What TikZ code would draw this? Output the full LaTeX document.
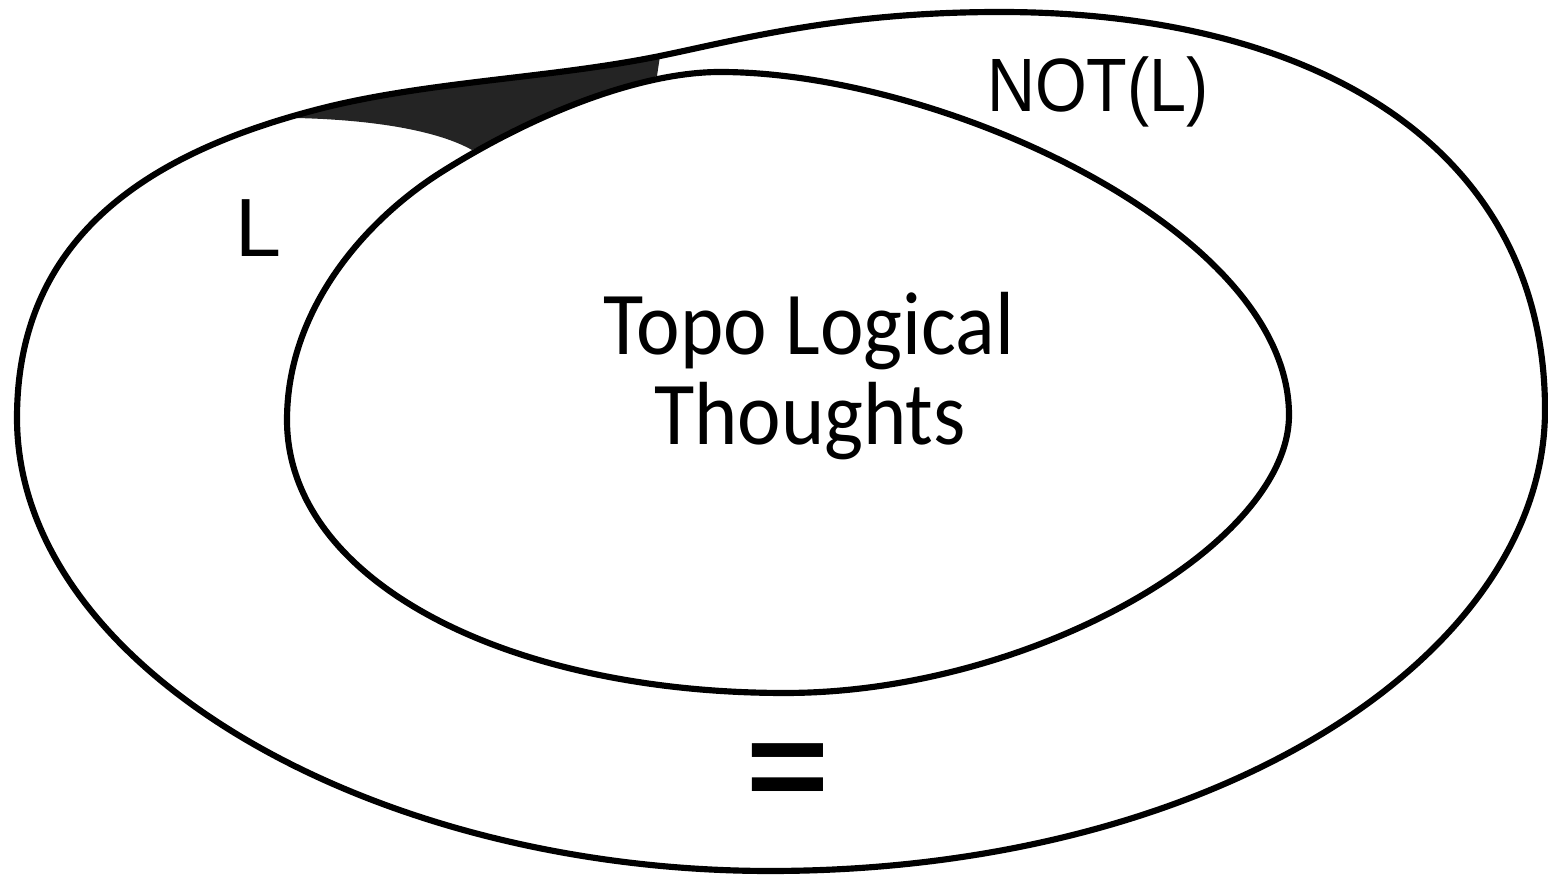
\documentclass[tikz,border=0pt]{standalone}
\usepackage{fontspec}
\setmainfont{Carlito}
\newfontfamily\arialfont{Liberation Sans}
\tikzset{
  curve/.style={line width=1.75pt, line join=round},
  shade/.style={fill=black!86},
  bigtext/.style={font=\fontsize{25.5pt}{30pt}\selectfont, anchor=base, inner sep=0pt},
  labeltext/.style={font=\arialfont\fontsize{21.5pt}{26pt}\selectfont, anchor=base, inner sep=0pt},
}
\begin{document}
\begin{tikzpicture}[x=0.01cm, y=-0.01cm]
\useasboundingbox (0,0) rectangle (1548,877);
% shaded region between outer curve and inner curve
\path[shade] (296,113) -- (327,107) .. controls (434,81) and (552,78) .. (660,56)
  -- (657,76) -- (614,91) -- (545,118) -- (472,150)
  .. controls (440,132) and (380,120) .. (296,118) -- cycle;
% outer curve (NOT(L) boundary)
\draw[curve] (17,418)
  .. controls (17,228) and (162,148) .. (327,107)
  .. controls (434,81) and (552,78) .. (660,56)
  .. controls (738,40) and (840,12) .. (1000,12)
  .. controls (1320,12) and (1545,150) .. (1545,410)
  .. controls (1545,655) and (1215,871) .. (770,871)
  .. controls (370,871) and (17,668) .. (17,418) -- cycle;
% inner curve (Topo Logical Thoughts)
\draw[curve] (287,420)
  .. controls (287,310) and (364,221.5) .. (440,173)
  .. controls (533,114) and (640,72) .. (720,72)
  .. controls (940,72) and (1289,230) .. (1289,415)
  .. controls (1289,545) and (1030,693) .. (785,693)
  .. controls (505,693) and (287,580) .. (287,420) -- cycle;
% labels
\node[bigtext] (t1) at (809,355) {\scalebox{0.92}[1]{Topo Logical}};
\node[bigtext] (t2) at (810,445) {\scalebox{0.92}[1]{Thoughts}};
\node[labeltext] (notl) at (1098,112) {\scalebox{0.88}[1]{NOT(L)}};
\node[labeltext, font=\arialfont\fontsize{23.5pt}{28pt}\selectfont] (l) at (258,257) {L};
\node[font=\arialfont\bfseries\fontsize{36pt}{44pt}\selectfont, inner sep=0pt] (eq) at (788,777) {\scalebox{1.12}[1]{=}};
\end{tikzpicture}
\end{document}
